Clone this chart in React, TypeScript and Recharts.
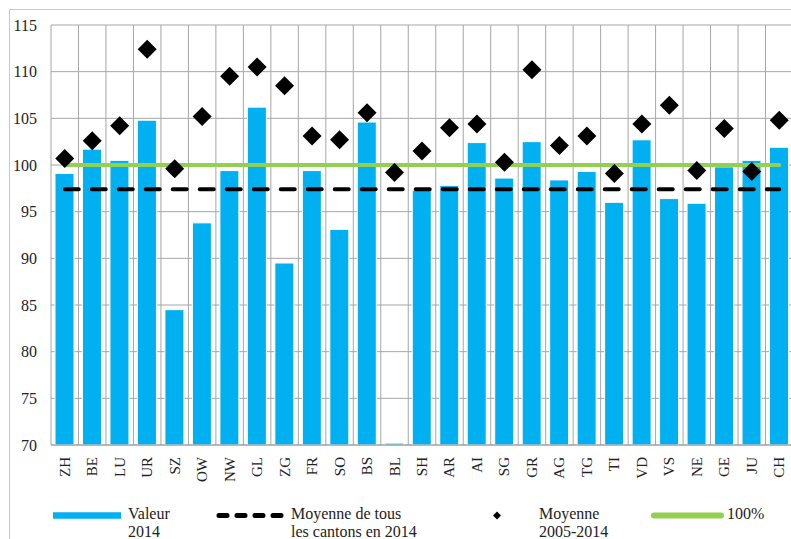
import React from 'react';
import { ComposedChart, Bar, Scatter, XAxis, YAxis, CartesianGrid, ReferenceLine } from 'recharts';

const cantons = ['ZH', 'BE', 'LU', 'UR', 'SZ', 'OW', 'NW', 'GL', 'ZG', 'FR', 'SO', 'BS', 'BL', 'SH', 'AR', 'AI', 'SG', 'GR', 'AG', 'TG', 'TI', 'VD', 'VS', 'NE', 'GE', 'JU', 'CH'];
const valeur2014 = [99.1, 101.7, 100.5, 104.8, 84.5, 93.8, 99.4, 106.2, 89.5, 99.4, 93.1, 104.6, 70.2, 97.3, 97.8, 102.4, 98.6, 102.5, 98.4, 99.3, 96.0, 102.7, 96.4, 95.9, 99.8, 100.5, 101.9];
const moyenne20052014 = [100.7, 102.6, 104.2, 112.4, 99.6, 105.2, 109.5, 110.5, 108.5, 103.1, 102.7, 105.6, 99.2, 101.5, 104.0, 104.4, 100.3, 110.2, 102.1, 103.1, 99.1, 104.4, 106.4, 99.4, 103.9, 99.3, 104.8];
const moyenneCantons2014 = 97.4;
const reference100 = 100;
const yTicks = [70, 75, 80, 85, 90, 95, 100, 105, 110, 115];

const legendLabels = ['Valeur\n2014', 'Moyenne de tous\nles cantons en 2014', 'Moyenne\n2005-2014', '100%'];

const data = cantons.map((c, i) => ({ canton: c, valeur: valeur2014[i], moyenne: moyenne20052014[i] }));

const FONT = '"Liberation Serif", "DejaVu Serif", serif';
const BLUE = '#00b0f0';
const GREEN = '#92d050';
const GRID = '#a6a6a6';

const CantonTick = (props: any) => {
  const { x, y, payload } = props;
  return (
    <g transform={`translate(${x},${y})`}>
      <text transform="rotate(-90)" x={-10} y={0} dy={5} textAnchor="end" fontFamily={FONT} fontSize={15} fill="#222">
        {payload.value}
      </text>
    </g>
  );
};

const Diamond = (props: any) => {
  const { cx, cy } = props;
  const r = 9.5;
  return <path d={`M${cx},${cy - r}L${cx + r},${cy}L${cx},${cy + r}L${cx - r},${cy}Z`} fill="#000" />;
};

const LegendText = ({ text, left }: { text: string; left: number }) => (
  <div
    style={{
      position: 'absolute',
      left,
      top: 505,
      fontFamily: FONT,
      fontSize: 16,
      lineHeight: '18px',
      color: '#222',
      whiteSpace: 'pre',
    }}
  >
    {text}
  </div>
);

export default function App() {
  return (
    <div style={{ position: 'fixed', left: 0, top: 0, width: 791, height: 539, overflow: 'hidden', background: '#fff' }}>
      <div style={{ position: 'absolute', left: 9, top: 9, width: 800, height: 560, borderLeft: '1px solid #c8c8c8', borderTop: '1px solid #c8c8c8' }} />
      <div style={{ position: 'absolute', left: 0, top: 0 }}>
        <ComposedChart width={800} height={539} data={data} margin={{ top: 25, right: 7, bottom: 34, left: 0 }} barSize={19}>
          <CartesianGrid
            stroke={GRID}
            strokeWidth={1}
            verticalCoordinatesGenerator={({ offset }: any) =>
              Array.from({ length: cantons.length + 1 }, (_, i) => offset.left + (i * offset.width) / cantons.length)
            }
          />
          <XAxis
            dataKey="canton"
            interval={0}
            height={60}
            tickSize={0}
            axisLine={{ stroke: '#999' }}
            tick={<CantonTick />}
          />
          <YAxis
            type="number"
            domain={[70, 115]}
            ticks={yTicks}
            allowDataOverflow
            width={51}
            axisLine={false}
            tickLine={false}
            tickSize={6}
            tickMargin={8}
            tick={{ fontFamily: FONT, fontSize: 16, fill: '#222' }}
          />
          <Bar dataKey="valeur" fill={BLUE} stroke="#ffffff" strokeWidth={1} isAnimationActive={false} />
          <ReferenceLine
            segment={[{ x: cantons[0], y: moyenneCantons2014 }, { x: cantons[cantons.length - 1], y: moyenneCantons2014 }]}
            stroke="#000"
            strokeWidth={4}
            strokeDasharray="14 13"
            strokeLinecap="round"
          />
          <ReferenceLine
            segment={[{ x: cantons[0], y: reference100 }, { x: cantons[cantons.length - 1], y: reference100 }]}
            stroke={GREEN}
            strokeWidth={4}
            strokeLinecap="round"
          />
          <Scatter dataKey="moyenne" shape={<Diamond />} isAnimationActive={false} />
        </ComposedChart>
      </div>
      {/* legend */}
      <svg style={{ position: 'absolute', left: 0, top: 500 }} width={791} height={30}>
        <line x1={53} y1={15.5} x2={121} y2={15.5} stroke={BLUE} strokeWidth={6.5} />
        <line x1={219} y1={15.5} x2={288} y2={15.5} stroke="#000" strokeWidth={5} strokeDasharray="8 10" strokeLinecap="round" />
        <path d="M497,11.5L501,15.5L497,19.5L493,15.5Z" fill="#000" />
        <line x1={654} y1={15.5} x2={721} y2={15.5} stroke={GREEN} strokeWidth={6} strokeLinecap="round" />
      </svg>
      <LegendText text={legendLabels[0]} left={128} />
      <LegendText text={legendLabels[1]} left={291} />
      <LegendText text={legendLabels[2]} left={539} />
      <LegendText text={legendLabels[3]} left={727} />
    </div>
  );
}
